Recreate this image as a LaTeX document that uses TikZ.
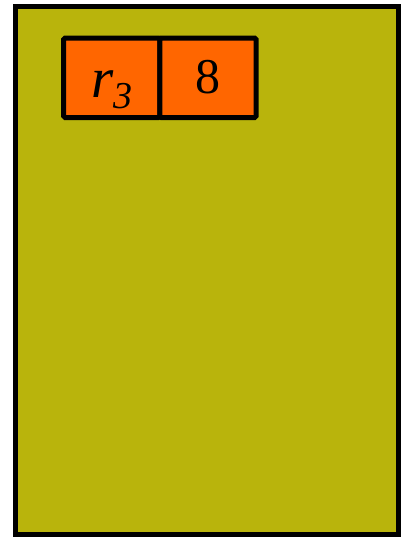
\documentclass[tikz,border=0pt]{standalone}
\usepackage{fontspec}
\setmainfont{Liberation Serif}
\usepackage{xcolor}
\usetikzlibrary{positioning}
\definecolor{framefill}{RGB}{185,180,12}
\definecolor{cellfill}{RGB}{255,102,0}
\newcommand{\regname}[2]{\textit{#1}\raisebox{-11pt}{\fontsize{38}{38}\selectfont\itshape #2}}

\begin{document}
\begin{tikzpicture}[x=1pt,y=-1pt,
  cellbox/.style={draw,line width=5pt,fill=cellfill,rounded corners=1.5pt,outer sep=0pt,inner sep=0pt,minimum width=96.25pt,minimum height=79.5pt}]
\useasboundingbox (0,0) rectangle (404,541);
\draw[line width=5pt,fill=framefill] (15.5,6.5) rectangle (398.5,534);
\node[cellbox,font=\fontsize{57}{57}\selectfont,text height=45pt,text depth=6.5pt] (key) at (111.75,77.75) {\regname{r}{3}};
\node[cellbox,right=0pt of key,font=\fontsize{50}{50}\selectfont,text height=36pt,text depth=4pt] (val) {8};
\end{tikzpicture}
\end{document}
